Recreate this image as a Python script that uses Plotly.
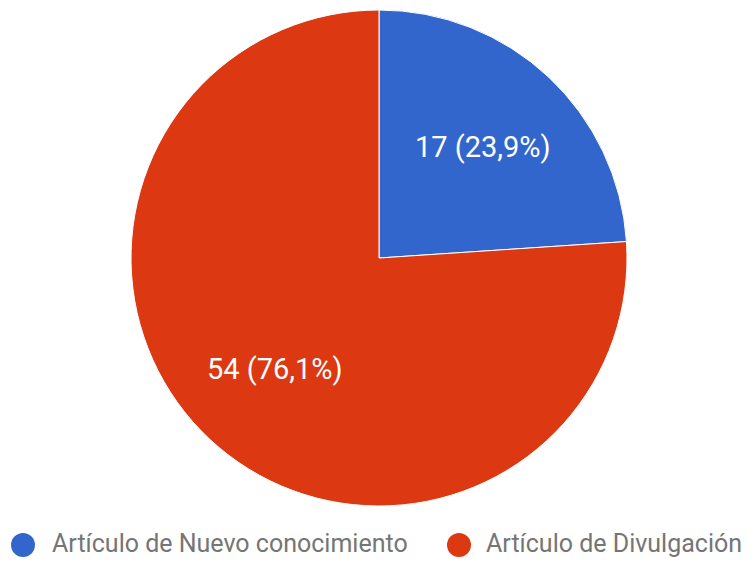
import math
import plotly.graph_objects as go

labels = ["Artículo de Nuevo conocimiento", "Artículo de Divulgación"]
values = [17, 54]
colors = ["#3366CC", "#DC3912"]

W, H = 750, 563
OFF = 8  # page body margin
cx, cy, r = 379 - OFF, 258 - OFF, 248

fig = go.Figure(go.Pie(
    labels=labels,
    values=values,
    sort=False,
    direction="clockwise",
    rotation=0,
    marker=dict(colors=colors, line=dict(color="white", width=1)),
    textinfo="none",
    showlegend=False,
    domain=dict(x=[(cx - r) / W, (cx + r) / W], y=[1 - (cy + r) / H, 1 - (cy - r) / H]),
    hoverinfo="label+value+percent",
))

# slice labels placed at a fixed fraction of the radius along each slice's mid-angle
total = sum(values)
start = 0.0
for v in values:
    frac = v / total
    mid = (start + frac / 2) * 2 * math.pi
    d = 0.615 * r
    px = cx + math.sin(mid) * d
    py = cy - math.cos(mid) * d
    pct = f"{frac * 100:.1f}".replace(".", ",")
    fig.add_annotation(
        x=px / W, y=1 - py / H, xref="paper", yref="paper",
        text=f"{v} ({pct}%)", showarrow=False,
        font=dict(family="Roboto", size=29, color="white"),
        xanchor="center", yanchor="middle",
    )
    start += frac

# legend drawn as circle swatches + text (reference uses large 24px dots)
legend_dot_x = [23 - OFF, 459 - OFF]
legend_text_x = [50 - OFF, 484 - OFF]
legend_y = 545 - OFF
dot_r = 12
for lab, col, dx, tx in zip(labels, colors, legend_dot_x, legend_text_x):
    fig.add_shape(
        type="circle", xref="paper", yref="paper",
        x0=(dx - dot_r) / W, x1=(dx + dot_r) / W,
        y0=1 - (legend_y + dot_r) / H, y1=1 - (legend_y - dot_r) / H,
        fillcolor=col, line=dict(width=0),
    )
    fig.add_annotation(
        x=tx / W, y=1 - (legend_y - 2) / H, xref="paper", yref="paper",
        text=lab, showarrow=False,
        font=dict(family="Roboto", size=25, color="#757575"),
        xanchor="left", yanchor="middle",
    )

fig.update_layout(
    width=W, height=H,
    margin=dict(l=0, r=0, t=0, b=0),
    paper_bgcolor="white",
    showlegend=False,
)

fig.write_html("out.html")
